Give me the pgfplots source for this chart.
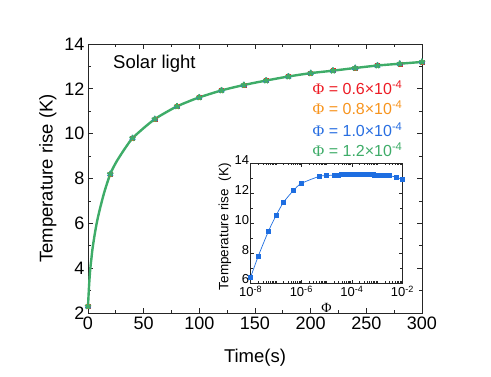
\documentclass[border=0pt]{standalone}
\usepackage{fontspec}
\setmainfont{Liberation Sans}
\newfontfamily\serifphi{Liberation Serif}
\usepackage{pgfplots}
\pgfplotsset{compat=1.18}
\definecolor{cred}{RGB}{237,28,36}
\definecolor{corange}{RGB}{247,148,30}
\definecolor{cblue}{RGB}{40,110,225}
\definecolor{cgreen}{RGB}{62,172,104}
\definecolor{iblue}{RGB}{30,110,225}
\newcommand{\Phis}{{\serifphi Φ}}
\begin{document}
\begin{tikzpicture}
\path[use as bounding box] (0,0) rectangle (491pt,376pt);
\begin{axis}[
  at={(88pt,63pt)}, anchor=south west,
  scale only axis, width=334pt, height=269pt,
  xmin=0, xmax=300, ymin=2, ymax=14,
  xtick={0,50,...,300}, ytick={2,4,...,14},
  minor x tick num=1, minor y tick num=1,
  tick align=inside,
  major tick length=5pt, minor tick length=3pt,
  axis line style={line width=0.8pt, black!85},
  every tick/.style={black!85, line width=0.7pt},
  /pgf/number format/assume math mode=true,
  ticklabel style={font=\fontsize{18}{20}\selectfont},
  label style={font=\fontsize{18.5}{20}\selectfont},
  xlabel={Time(s)}, ylabel={Temperature rise (K)},
  xlabel style={at={(axis description cs:0.5,-0.167)}, anchor=center},
  ylabel style={at={(axis description cs:-0.12,0.5)}, anchor=center},
  clip=false,
]
\addplot[only marks, mark=square*, mark size=2.0pt, cred] coordinates {
(0,2.3)(20,8.2)(40,9.8)(60,10.65)(80,11.22)(100,11.62)(120,11.93)(140,12.17)(160,12.37)(180,12.55)(200,12.7)(220,12.81)(240,12.93)(260,13.04)(280,13.12)(300,13.2)};
\addplot[only marks, mark=*, mark size=2.2pt, corange] coordinates {
(0,2.3)(20,8.2)(40,9.8)(60,10.65)(80,11.22)(100,11.62)(120,11.93)(140,12.17)(160,12.37)(180,12.55)(200,12.7)(220,12.81)(240,12.93)(260,13.04)(280,13.12)(300,13.2)};
\addplot[only marks, mark=triangle*, mark size=3.2pt, cblue] coordinates {
(0,2.3)(20,8.2)(40,9.8)(60,10.65)(80,11.22)(100,11.62)(120,11.93)(140,12.17)(160,12.37)(180,12.55)(200,12.7)(220,12.81)(240,12.93)(260,13.04)(280,13.12)(300,13.2)};
\addplot[only marks, mark=star, mark size=3.2pt, cgreen, mark options={line width=1.8pt}] coordinates {
(0,2.3)(20,8.2)(40,9.8)(60,10.65)(80,11.22)(100,11.62)(120,11.93)(140,12.17)(160,12.37)(180,12.55)(200,12.7)(220,12.81)(240,12.93)(260,13.04)(280,13.12)(300,13.2)};
\addplot[cgreen, line width=2.4pt, smooth, no marks] coordinates {
(0,2.3)(1,3.25)(2,3.95)(3,4.4)(4,4.85)(6,5.5)(8,6.05)(10,6.5)(12,6.9)(15,7.45)(20,8.2)(25,8.7)(30,9.1)(35,9.47)(40,9.8)(50,10.25)(60,10.65)(70,10.95)(80,11.22)(90,11.43)(100,11.62)(120,11.93)(140,12.17)(160,12.37)(180,12.55)(200,12.7)(220,12.81)(240,12.93)(260,13.04)(280,13.12)(300,13.2)};
\node[anchor=west, font=\fontsize{18.5}{20}\selectfont] at (axis cs:19.5,13.1) {Solar light};
\end{axis}
\node[anchor=east, font=\fontsize{16}{18}\selectfont, text=cred] at (406pt,288pt) {\Phis{} = 0.6×10\textsuperscript{-4}};
\node[anchor=east, font=\fontsize{16}{18}\selectfont, text=corange] at (406pt,268pt) {\Phis{} = 0.8×10\textsuperscript{-4}};
\node[anchor=east, font=\fontsize{16}{18}\selectfont, text=cblue] at (406pt,246pt) {\Phis{} = 1.0×10\textsuperscript{-4}};
\node[anchor=east, font=\fontsize{16}{18}\selectfont, text=cgreen] at (406pt,226pt) {\Phis{} = 1.2×10\textsuperscript{-4}};
\begin{axis}[
  at={(250.7pt,93pt)}, anchor=south west,
  scale only axis, width=151.8pt, height=119.7pt,
  xmode=log, xmin=1e-8, xmax=1e-2, ymin=6, ymax=14,
  axis background/.style={fill=white},
  xtick={1e-8,1e-6,1e-4,1e-2},
  xticklabels={10\textsuperscript{-8},10\textsuperscript{-6},10\textsuperscript{-4},10\textsuperscript{-2}},
  minor xtick={2e-8,3e-8,4e-8,5e-8,6e-8,7e-8,8e-8,9e-8,1e-7,2e-7,3e-7,4e-7,5e-7,6e-7,7e-7,8e-7,9e-7,2e-6,3e-6,4e-6,5e-6,6e-6,7e-6,8e-6,9e-6,1e-5,2e-5,3e-5,4e-5,5e-5,6e-5,7e-5,8e-5,9e-5,2e-4,3e-4,4e-4,5e-4,6e-4,7e-4,8e-4,9e-4,1e-3,2e-3,3e-3,4e-3,5e-3,6e-3,7e-3,8e-3,9e-3},
  ytick={6,8,...,14}, minor y tick num=1,
  tick align=inside,
  major tick length=3.5pt, minor tick length=2pt,
  axis line style={line width=0.6pt, black!85},
  every tick/.style={black!85, line width=0.5pt},
  /pgf/number format/assume math mode=true,
  ticklabel style={font=\fontsize{13}{14}\selectfont},
  yticklabel style={yshift=3.5pt, inner sep=1.5pt},
  xticklabel style={yshift=-1.5pt, inner sep=1.5pt},
  xlabel={\Phis}, ylabel={Temperature rise\ \ (K)},
  xlabel style={font=\fontsize{14}{15}\selectfont, at={(axis description cs:0.5,-0.205)}, anchor=center},
  ylabel style={font=\fontsize{13.5}{15}\selectfont, at={(axis description cs:-0.17,0.47)}, anchor=center},
]
\addplot[iblue, line width=0.7pt, mark=square*, mark size=2pt, smooth] coordinates {
(1e-8,6.4)(2e-8,7.8)(5e-8,9.45)(1e-7,10.5)(2e-7,11.4)(5e-7,12.2)(1e-6,12.65)(5e-6,13.12)(1e-5,13.18)(2e-5,13.21)(3e-5,13.22)(4e-5,13.23)(5e-5,13.24)(6e-5,13.24)(7e-5,13.25)(8e-5,13.25)(9e-5,13.25)(1e-4,13.25)(1.2e-4,13.25)(1.5e-4,13.25)(2e-4,13.25)(2.5e-4,13.25)(3e-4,13.25)(4e-4,13.24)(5e-4,13.24)(6e-4,13.23)(7e-4,13.23)(8e-4,13.22)(1e-3,13.22)(1.2e-3,13.21)(1.5e-3,13.2)(2e-3,13.19)(2.5e-3,13.18)(3e-3,13.17)(5.5e-3,13.08)(1e-2,12.92)};
\end{axis}
\end{tikzpicture}
\end{document}
